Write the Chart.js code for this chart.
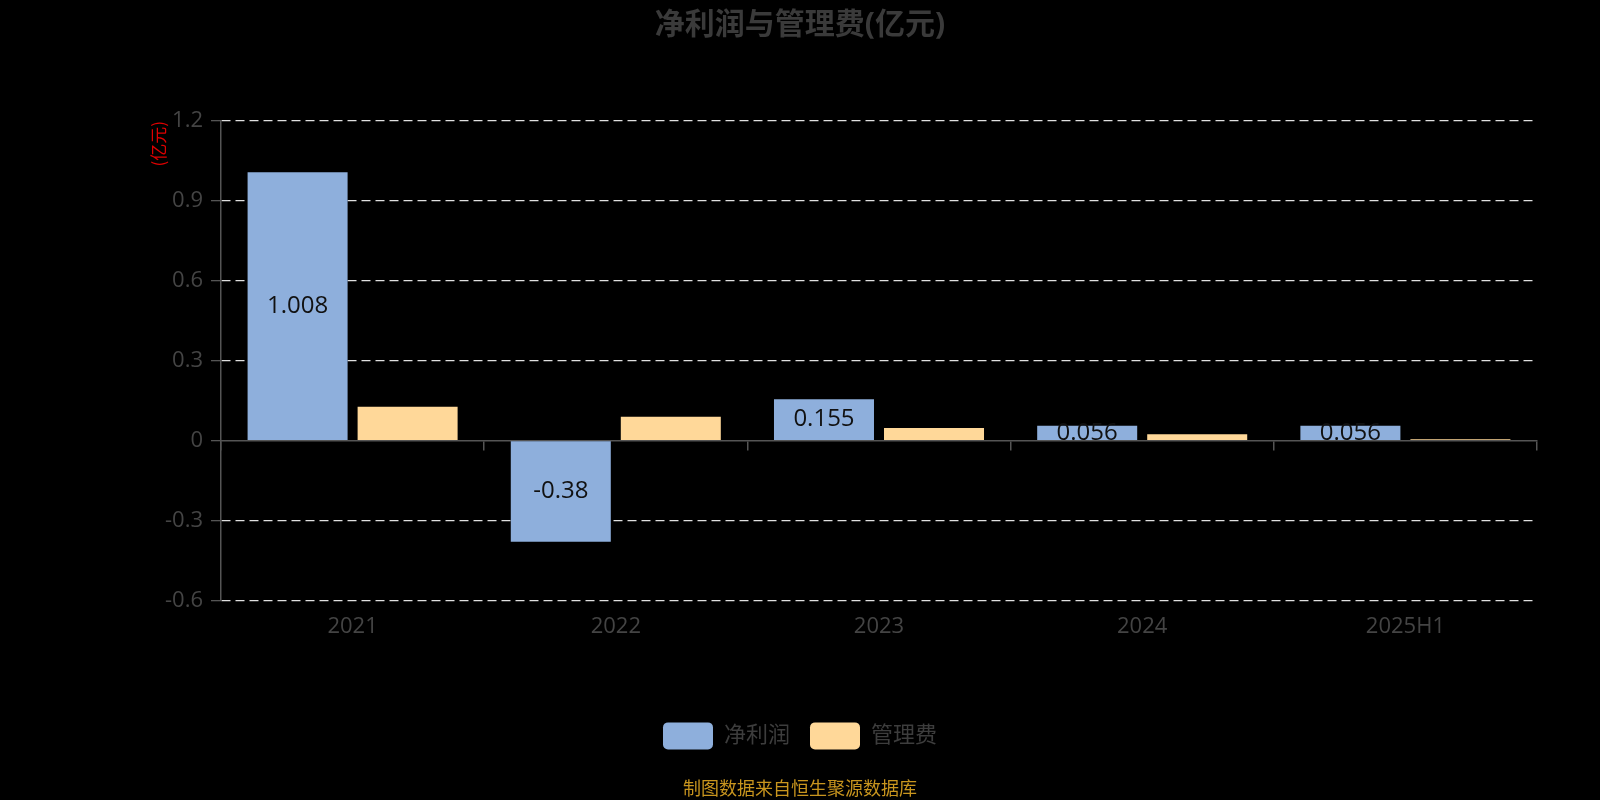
<!DOCTYPE html>
<html>
<head>
<meta charset="utf-8">
<script src="https://cdn.jsdelivr.net/npm/chart.js@4/dist/chart.umd.min.js"></script>
<style>
  body { margin: 0; background: #000; }
  #box { width: 1600px; height: 800px; position: relative; }
</style>
</head>
<body>
<div id="box"><canvas id="grafico"></canvas></div>
<script>
// DATI
var anni = ['2021', '2022', '2023', '2024', '2025H1'];
var utile = [1.008, -0.38, 0.155, 0.056, 0.056];
var spese = [0.127, 0.09, 0.047, 0.024, 0.005];
var tickY = [-0.6, -0.3, 0, 0.3, 0.6, 0.9, 1.2];

var famiglia = '"Open Sans", "Noto Sans CJK SC", sans-serif';

// ETICHETTE DENTRO LE BARRE BLU
var etichette = {
  id: 'etichette',
  afterDatasetsDraw: function(chart) {
    var ctx = chart.ctx;
    var meta = chart.getDatasetMeta(0);
    ctx.save();
    ctx.font = '24px ' + famiglia;
    ctx.fillStyle = '#111';
    ctx.textAlign = 'center';
    ctx.textBaseline = 'middle';
    meta.data.forEach(function(bar, i) {
      ctx.fillText(String(utile[i]), bar.x, (bar.y + bar.base) / 2);
    });
    ctx.restore();
  }
};

var ctx = document.getElementById('grafico');
var chart = new Chart(ctx, {
  type: 'bar',
  data: {
    labels: anni,
    datasets: [{
      label: '净利润',
      backgroundColor: '#8eafdc',
      data: utile,
      xAxisID: 'x'
    }, {
      label: '管理费',
      backgroundColor: '#ffd899',
      data: spese,
      xAxisID: 'x'
    }]
  },
  options: {
    responsive: true,
    maintainAspectRatio: false,
    animation: false,
    datasets: {
      bar: { categoryPercentage: 0.836, barPercentage: 0.909 }
    },
    plugins: {
      title: {
        display: true,
        text: '净利润与管理费(亿元)',
        color: '#3a3a3a',
        font: { size: 30, weight: 'bold', family: famiglia },
        padding: { top: 7, bottom: 78 }
      },
      subtitle: {
        display: true,
        position: 'bottom',
        text: '制图数据来自恒生聚源数据库',
        color: '#c8951e',
        font: { size: 18, family: '"Noto Sans CJK SC", sans-serif' },
        padding: { top: 18, bottom: 1 }
      },
      legend: {
        position: 'bottom',
        labels: {
          color: '#3d3d3d',
          font: { size: 22, family: famiglia },
          boxWidth: 50,
          boxHeight: 27,
          useBorderRadius: true,
          borderRadius: 5,
          padding: 20
        }
      },
      tooltip: { enabled: false }
    },
    scales: {
      x: {
        type: 'category',
        position: 'bottom',
        offset: true,
        grid: { display: false, offset: true },
        border: { display: false },
        ticks: { color: '#444', font: { size: 22, family: famiglia }, padding: 5 },
        afterFit: function(scale) { scale.height = 102; }
      },
      x0: {
        type: 'category',
        labels: anni,
        position: { y: 0 },
        offset: true,
        grid: { offset: true, drawOnChartArea: false, tickLength: 9, tickColor: '#555', lineWidth: 1.5 },
        border: { color: '#555', width: 1.5 },
        ticks: { display: false }
      },
      y: {
        min: tickY[0],
        max: tickY[tickY.length - 1],
        afterFit: function(scale) { scale.width = 221; },
        ticks: {
          stepSize: 0.3,
          color: '#444',
          padding: 8,
          font: { size: 22, family: famiglia },
          callback: function(v) { return String(Number(v.toFixed(1))); }
        },
        grid: {
          color: function(c) { return c.tick && Math.abs(c.tick.value) < 1e-9 ? 'rgba(0,0,0,0)' : '#e0e0e0'; },
          tickColor: '#555',
          tickLength: 10,
          lineWidth: 1.3
        },
        border: { color: '#555', width: 1.5, dash: [9, 5] },
        title: {
          display: true,
          text: '(亿元)',
          color: '#e00000',
          align: 'end',
          font: { size: 17, family: '"Noto Sans CJK SC", sans-serif' },
          padding: { top: 148, bottom: 0 }
        }
      },
      // asse vuoto a destra, solo per lasciare spazio
      yDx: {
        position: 'right',
        grid: { display: false },
        border: { display: false },
        ticks: { display: false },
        afterFit: function(scale) { scale.width = 63; }
      }
    }
  },
  plugins: [etichette]
});
</script>
</body>
</html>
